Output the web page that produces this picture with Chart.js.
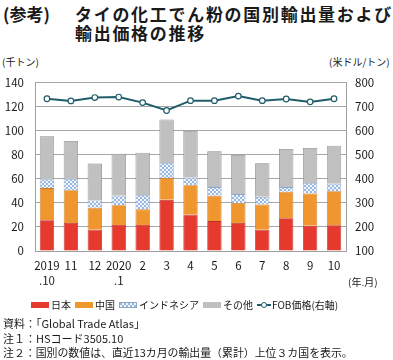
<!DOCTYPE html>
<html><head><meta charset="utf-8">
<script src="https://cdn.jsdelivr.net/npm/chart.js@4"></script>
<style>
body{margin:0;width:393px;height:360px;background:#fff;position:relative;overflow:hidden;font-family:"Noto Sans CJK JP",sans-serif;color:#1a1a1a}
.t{position:absolute;white-space:nowrap;line-height:1}
#wrap{position:absolute;left:0;top:65px;width:393px;height:225px}
.lg{position:absolute;top:299px;left:31px;height:11px;display:flex;align-items:center;font-size:10px;line-height:10px;white-space:nowrap}
.bx{display:inline-block;width:18px;height:6px;margin-right:2px;box-sizing:border-box;flex:none}
.lg .tx{margin-right:4px}
</style></head><body>
<div class="t" style="left:3px;top:5px;font-size:17px;font-weight:bold">(参考)</div>
<div class="t" style="left:75px;top:5px;font-size:17px;font-weight:bold;letter-spacing:1.7px">タイの化工でん粉の国別輸出量および</div>
<div class="t" style="left:75px;top:24px;font-size:17px;font-weight:bold;letter-spacing:1.7px">輸出価格の推移</div>
<div class="t" style="left:2px;top:57px;font-size:10px">(千トン)</div>
<div class="t" style="left:329px;top:57px;font-size:10px">(米ドル/トン)</div>
<div id="wrap"><canvas id="c" width="393" height="225"></canvas></div>
<div class="t" style="left:348px;top:277px;font-size:10px">(年.月)</div>
<div class="lg">
  <span class="bx" style="background:#e63a2e"></span><span class="tx">日本</span>
  <span class="bx" style="background:#f0962e"></span><span class="tx">中国</span>
  <span class="bx" id="lgIndo" style="border:1px solid #8fa8c8"></span><span class="tx">インドネシア</span>
  <span class="bx" style="background:#c0c0c0"></span><span class="tx">その他</span>
  <span style="position:relative;display:inline-block;width:14px;height:6px;margin-right:1px;flex:none"><span style="position:absolute;left:0;top:2px;width:14px;height:2px;background:#1f5d6b"></span><span style="position:absolute;left:4px;top:0;width:4px;height:4px;border:1px solid #1f5d6b;border-radius:50%;background:#fff"></span></span><span>FOB価格(右軸)</span>
</div>
<div class="t" style="left:3px;top:318px;font-size:11px">資料：「Global Trade Atlas」</div>
<div class="t" style="left:3px;top:333px;font-size:11px">注１：HSコード3505.10</div>
<div class="t" style="left:3px;top:347px;font-size:10.9px">注２：国別の数値は、直近13カ月の輸出量（累計）上位３カ国を表示。</div>
<script>
const categories = [["2019",".10"],"11","12",["2020",".1"],"2","3","4","5","6","7","8","9","10"];
const japan     = [25.7, 23.3, 17.8, 21.7, 21.7, 42.6, 30.2, 24.9, 23.3, 17.8, 27.3, 21.0, 21.5];
const china     = [26.7, 27.3, 18.2, 16.5, 13.0, 18.3, 24.6, 21.2, 16.7, 21.0, 22.0, 26.9, 28.3];
const indonesia = [ 7.4,  9.4,  6.0,  7.9, 11.9, 12.4,  6.4,  7.1,  7.4,  6.3,  3.9,  8.8,  6.3];
const others    = [35.7, 31.6, 30.8, 34.9, 35.2, 36.3, 38.8, 29.9, 32.5, 28.0, 31.8, 29.1, 31.5];
const fobPrice  = [734, 725, 739, 741, 718, 685, 726, 726, 745, 726, 733, 721, 734];
const leftTicks = [0, 140, 20];
const rightTicks = [100, 800, 100];

const tile = document.createElement('canvas');
tile.width = 4; tile.height = 4;
const tc = tile.getContext('2d');
tc.fillStyle = '#f2f6fc'; tc.fillRect(0,0,4,4);
tc.fillStyle = '#98b8e0'; tc.fillRect(0,0,2,2); tc.fillRect(2,2,2,2);
document.getElementById('lgIndo').style.backgroundImage = 'url(' + tile.toDataURL() + ')';
const ctx = document.getElementById('c').getContext('2d');
const indoPattern = ctx.createPattern(tile, 'repeat');

const tickFont = {family: '"Noto Sans CJK JP", sans-serif', size: 11.5};
const barCommon = {borderWidth: 0.8, barPercentage: 0.6, categoryPercentage: 1.0, yAxisID: 'y', order: 1, stack: 's'};

new Chart(ctx, {
  data: {
    labels: categories,
    datasets: [
      {type:'line', label:'FOB価格(右軸)', data: fobPrice, yAxisID:'y2', order:0, borderColor:'#1f5d6b', borderWidth:2,
       pointRadius:2.8, pointBackgroundColor:'#fff', pointBorderColor:'#1f5d6b', pointBorderWidth:1.2, tension:0},
      Object.assign({type:'bar', label:'日本', data: japan, backgroundColor:'#e63a2e', borderColor:'#b8302a'}, barCommon),
      Object.assign({type:'bar', label:'中国', data: china, backgroundColor:'#f0962e', borderColor:'#c8782a'}, barCommon),
      Object.assign({type:'bar', label:'インドネシア', data: indonesia, backgroundColor: indoPattern, borderColor:'#8fa8c8'}, barCommon),
      Object.assign({type:'bar', label:'その他', data: others, backgroundColor:'#c0c0c0', borderColor:'#8a8a8a'}, barCommon)
    ]
  },
  options: {
    responsive: false, animation: false,
    layout: {padding: {top: 10, left: 0, right: 0, bottom: 0}},
    plugins: {legend: {display: false}, tooltip: {enabled: false}},
    scales: {
      x: {stacked: true, grid: {display: false, drawTicks: false}, border: {color:'#a0a0a0'},
          ticks: {color:'#1a1a1a', font: Object.assign({lineHeight: 1.3}, tickFont), padding: 7, maxRotation: 0, autoSkip: false},
          afterFit: s => { s.height = 39; }},
      y: {stacked: true, position: 'left', min: leftTicks[0], max: leftTicks[1],
          ticks: {stepSize: leftTicks[2], color:'#1a1a1a', font: tickFont, padding: 11},
          grid: {color:'#a6a6a6', lineWidth: 1, drawTicks: false}, border: {color:'#a0a0a0'},
          afterFit: s => { s.width = 35; }},
      y2: {position: 'right', min: rightTicks[0], max: rightTicks[1],
          ticks: {stepSize: rightTicks[2], color:'#1a1a1a', font: tickFont, padding: 9},
          grid: {display: false, drawTicks: false}, border: {color:'#a0a0a0'},
          afterFit: s => { s.width = 47; }}
    }
  }
});
</script>
</body></html>
